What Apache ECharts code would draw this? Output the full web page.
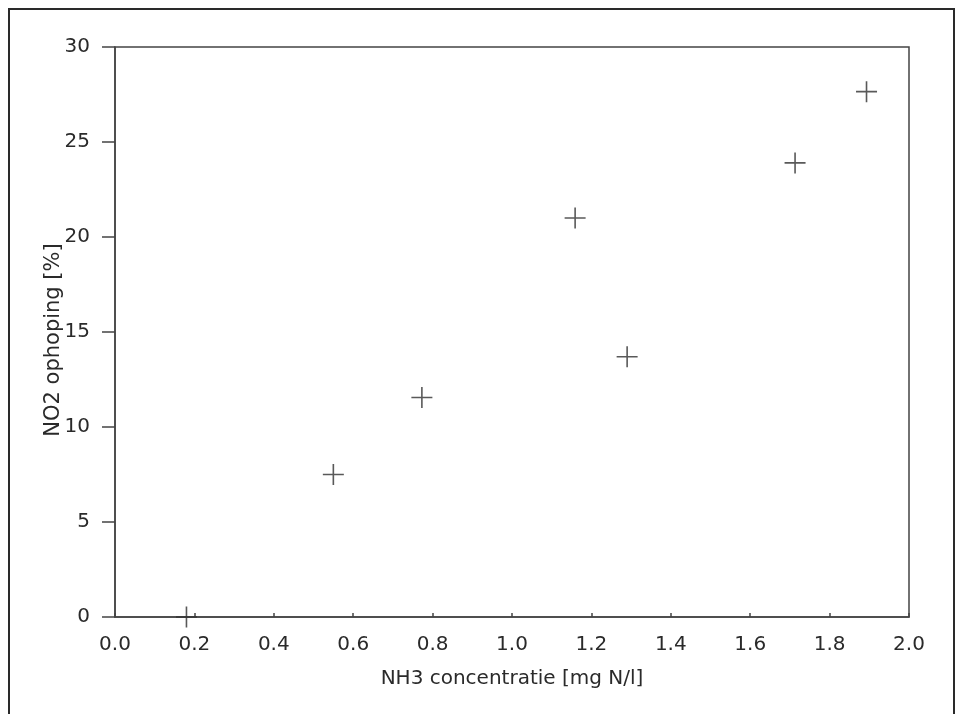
<!DOCTYPE html>
<html>
<head>
<meta charset="utf-8">
<script src="https://cdn.jsdelivr.net/npm/echarts@6/dist/echarts.min.js"></script>
<style>html,body{margin:0;padding:0;background:#fff;}#c{width:958px;height:714px;}</style>
</head>
<body>
<div id="c"></div>
<script>
const xValues = [0.18, 0.55, 0.773, 1.159, 1.290, 1.713, 1.893];
const yValues = [0.0, 7.5, 11.55, 21.0, 13.7, 23.9, 27.65];
const xName = 'NH3 concentratie [mg N/l]';
const yName = 'NO2 ophoping [%]';

const chart = echarts.init(document.getElementById('c'));
const ink = '#2a2a2a';
const font = 'DejaVu Sans, sans-serif';
chart.setOption({
  animation: false,
  backgroundColor: '#fff',
  graphic: [{
    type: 'rect',
    shape: { x: 9, y: 9, width: 945, height: 730 },
    style: { fill: 'none', stroke: '#2a2a2a', lineWidth: 2 },
    silent: true
  }],
  grid: {
    left: 115, right: 49, top: 47, bottom: 97,
    show: true, borderColor: '#444', borderWidth: 1.5, backgroundColor: 'transparent'
  },
  xAxis: {
    type: 'value', min: 0, max: 2, interval: 0.2,
    name: xName, nameLocation: 'middle', nameGap: 52, nameMoveOverlap: false,
    nameTextStyle: { fontFamily: font, fontSize: 20, color: ink },
    axisLine: { show: true, onZero: false, lineStyle: { color: '#444', width: 1.5 } },
    axisTick: { show: true, inside: true, length: 4, lineStyle: { color: '#444', width: 1.5 } },
    axisLabel: { margin: 18, fontFamily: font, fontSize: 20, color: ink,
      formatter: v => v.toFixed(1) },
    splitLine: { show: false }
  },
  yAxis: {
    type: 'value', min: 0, max: 30, interval: 5,
    name: yName, nameLocation: 'middle', nameGap: 51, nameRotate: 90, nameMoveOverlap: false,
    nameTextStyle: { fontFamily: font, fontSize: 21, color: ink, padding: [0, 16, 0, 0] },
    axisLine: { show: true, lineStyle: { color: '#444', width: 1.5 } },
    axisTick: { show: true, inside: false, length: 13, lineStyle: { color: '#444', width: 1.5 } },
    axisLabel: { margin: 25, fontFamily: font, fontSize: 20, color: ink },
    splitLine: { show: false }
  },
  series: [{
    type: 'scatter',
    data: xValues.map((x, i) => [x, yValues[i]]),
    symbol: 'path://M0,10 L20,10 M10,0 L10,20',
    symbolSize: 21,
    itemStyle: { color: 'none', borderColor: '#2f2f2f', borderWidth: 1.6 },
    clip: false
  }]
});
</script>
</body>
</html>
